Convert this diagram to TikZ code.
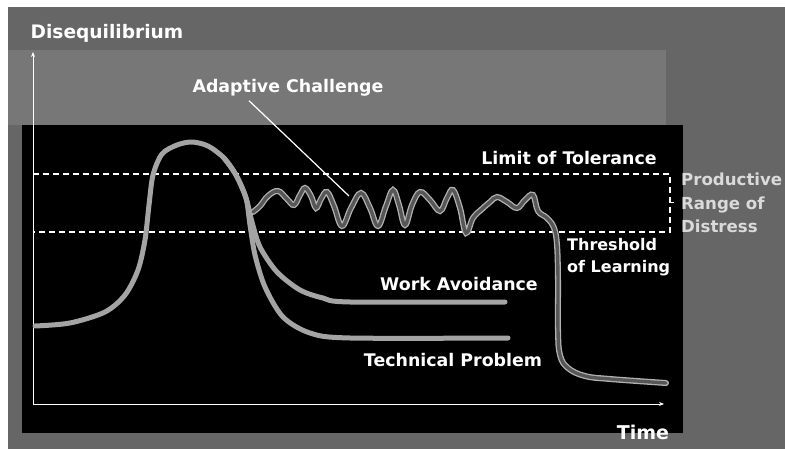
\documentclass[tikz,border=0pt]{standalone}
\usepackage{fontspec}
\setmainfont{DejaVu Sans}
\usetikzlibrary{arrows.meta}
\definecolor{bggray}{HTML}{666666}
\definecolor{boxgray}{HTML}{777777}
\definecolor{curvegray}{HTML}{A4A4A4}
\definecolor{wiggray}{HTML}{575757}
\definecolor{rangegray}{HTML}{DADADA}
\begin{document}
\begin{tikzpicture}[x=1pt,y=-1pt,
    lbl/.style={text=white,inner sep=0pt,font=\bfseries\fontsize{17.4}{19}\selectfont},
    biglbl/.style={lbl,font=\bfseries\fontsize{18.6}{20}\selectfont},
    curve/.style={curvegray,line width=5pt,line cap=round,line join=round},
    wiggle/.style={draw=curvegray!85,double=wiggray,double distance=3.4pt,line width=1.3pt,line cap=round},
    axis/.style={white,line width=1pt,-{Stealth[length=5pt,width=4pt]}},
    limit/.style={white,line width=1.1pt,dash pattern=on 6pt off 4pt}]
        \useasboundingbox (0,0) rectangle (785,449);
        \fill[white] (0,0) rectangle (785,449);
        \fill[bggray] (8,7) rectangle (785,449);
        \fill[boxgray] (8,50) rectangle (666,125);
        \fill[black] (22,125) rectangle (683,433);
        \coordinate (o) at (33,404);
        \coordinate (ytop) at (33,52);
        \coordinate (xend) at (664,404);
        \draw[axis] (o) -- (ytop);
        \draw[axis] (o) -- (xend);
        \node[biglbl] (yname) at (107,33) {Disequilibrium};
        \node[biglbl,font=\bfseries\fontsize{19}{21}\selectfont] (xname) at (643,432) {Time};
        \coordinate (lim l) at (33,174);
        \coordinate (lim r) at (670,174);
        \coordinate (thr r) at (670,232);
        \coordinate (thr l) at (33,232);
        \draw[limit] (lim l) -- (lim r) -- (thr r) -- (thr l);
        \draw[white,line width=1pt] (670,203) -- (674,203);
        \draw[curve] plot [smooth] coordinates {(35,326) (70,323) (105,312) (125,295) (138,270) (145,240) (149,205) (153,175) (162,154) (177,145) (192,142) (208,146) (224,158) (236,175) (246,198) (252,222) (260,247) (277,272) (300,290) (323,298) (350,302) (505,302)};
        \draw[curve] plot [smooth] coordinates {(224,158) (236,175) (246,198) (250,225) (255,255) (265,287) (283,317) (310,333) (350,338) (508,338)};
        \draw[wiggle] plot [smooth,tension=0.65] coordinates {(253,212) (260,206) (268,196) (278,191) (287,199) (294,205) (300,195) (305,188) (311,196) (316,208) (321,199) (327,192) (334,206) (342,226) (351,208) (361,193) (370,208) (378,226) (386,206) (393,190) (399,205) (405,225) (412,205) (420,192) (430,200) (440,211) (447,198) (453,190) (460,208) (466,233) (473,218) (482,209) (490,202) (497,197) (507,202) (517,208) (525,200) (533,195) (538,211) (547,218) (554,228) (557,245) (558,280) (558,330) (560,355) (568,368) (585,376) (610,379) (666,383)};
        \node[lbl] (adapt) at (288,88) {Adaptive Challenge};
        \coordinate (adapt tip) at (349,196);
        \draw[white,line width=1.2pt] ([xshift=-39pt,yshift=-4pt]adapt.south) -- (adapt tip);
        \node[lbl,text=rangegray,anchor=west,align=left,font=\bfseries\fontsize{16.6}{23.5}\selectfont] (range) at (681,203) {Productive\\Range of\\Distress};
        \node[lbl] (limtext) at (569,158) {Limit of Tolerance};
        \node[lbl,anchor=west,align=left,font=\bfseries\fontsize{16}{21.5}\selectfont] (thresh) at (567,257) {Threshold\\of Learning};
        \node[lbl] (work) at (459,284) {Work Avoidance};
        \node[lbl] (tech) at (453,360) {Technical Problem};
\end{tikzpicture}
\end{document}
